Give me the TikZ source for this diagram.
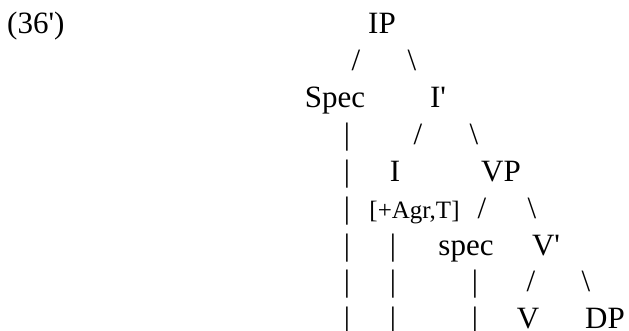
\documentclass[tikz,border=0pt]{standalone}
\usepackage{fontspec}
\setmainfont{Liberation Serif}
\begin{document}
\begin{tikzpicture}[x=1pt,y=-1pt,
  lab/.style={font=\fontsize{31}{37}\selectfont, inner sep=0pt, anchor=base},
  feat/.style={font=\fontsize{25}{30}\selectfont, inner sep=0pt, anchor=base},
  edge/.style={lab}]
\useasboundingbox (0,0) rectangle (629,330);
% example number
\node[lab, anchor=base west] (num) at (7,33) {(36\textquotesingle)};
% row 1
\node[lab] (IP) at (382,33) {IP};
% row 2
\node[edge] (e1) at (356,70) {/};
\node[edge] (e2) at (412,70) {\textbackslash};
% row 3
\node[lab] (Spec) at (335,107) {Spec};
\node[lab] (Ibar) at (438,107) {I\textquotesingle};
% row 4
\node[edge] (b1a) at (347,144) {|};
\node[edge] (e3) at (418,144) {/};
\node[edge] (e4) at (474,144) {\textbackslash};
% row 5
\node[edge] (b1b) at (347,181) {|};
\node[lab] (I) at (395,181) {I};
\node[lab] (VP) at (501,181) {VP};
% row 6
\node[edge] (b1c) at (347,218) {|};
\node[feat] (agr) at (414.5,218) {[+Agr,T]};
\node[edge] (e5) at (482,218) {/};
\node[edge] (e6) at (532,218) {\textbackslash};
% row 7
\node[edge] (b1d) at (347,255) {|};
\node[edge] (b2a) at (393,255) {|};
\node[lab] (spec) at (466,255) {spec};
\node[lab] (Vbar) at (546,255) {V\textquotesingle};
% row 8
\node[edge] (b1e) at (347,291) {|};
\node[edge] (b2b) at (393,291) {|};
\node[edge] (b3a) at (475,291) {|};
\node[edge] (e7) at (531,291) {/};
\node[edge] (e8) at (586,291) {\textbackslash};
% row 9
\node[edge] (b1f) at (347,328) {|};
\node[edge] (b2c) at (393,328) {|};
\node[edge] (b3b) at (475,328) {|};
\node[lab] (V) at (528,328) {V};
\node[lab] (DP) at (605,328) {DP};
\end{tikzpicture}
\end{document}
